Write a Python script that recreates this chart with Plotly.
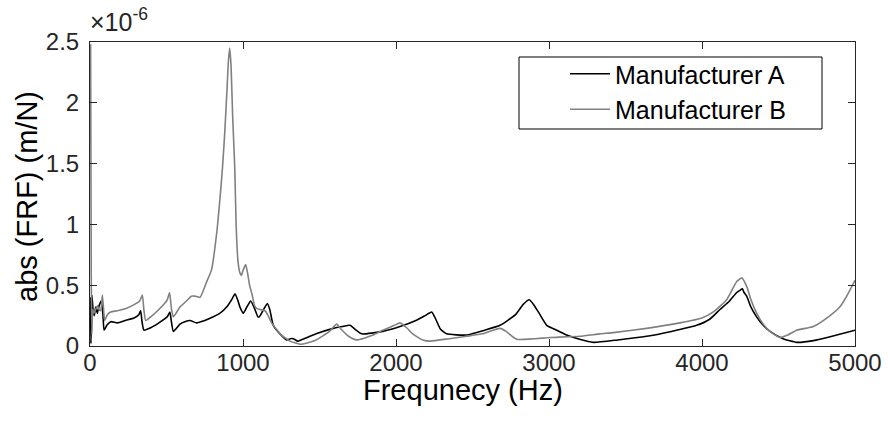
import plotly.graph_objects as go

# Frequencies (Hz) and |FRF| values in units of 1e-6 m/N
freq_a = [2, 6, 12, 20, 28, 37, 48, 59, 74, 85, 92, 110, 135, 179, 230, 288, 320, 331, 340, 353,
          397, 450, 505, 522, 532, 545, 588, 620, 654, 697, 750, 806, 850, 893, 930, 948, 965, 980,
          1002, 1025, 1050, 1075, 1098, 1107, 1130, 1159, 1175, 1198, 1242, 1285, 1310, 1329, 1359,
          1400, 1478, 1590, 1650, 1699, 1740, 1775, 1913, 2026, 2130, 2190, 2233, 2260, 2290, 2331,
          2462, 2580, 2680, 2783, 2830, 2870, 2900, 2935, 2985, 3033, 3115, 3200, 3290, 3450, 3638,
          3800, 3965, 4050, 4117, 4180, 4227, 4250, 4264, 4275, 4292, 4320, 4357, 4400, 4444, 4530,
          4619, 4728, 4850, 5000]
frf_a = [0.40, 0.02, 0.42, 0.30, 0.25, 0.32, 0.27, 0.33, 0.37, 0.25, 0.13, 0.17, 0.20, 0.19, 0.21,
         0.23, 0.26, 0.29, 0.20, 0.13, 0.15, 0.19, 0.24, 0.28, 0.20, 0.12, 0.18, 0.20, 0.21, 0.19,
         0.21, 0.24, 0.27, 0.32, 0.39, 0.43, 0.38, 0.32, 0.27, 0.32, 0.37, 0.31, 0.24, 0.24, 0.29,
         0.35, 0.30, 0.17, 0.10, 0.05, 0.06, 0.06, 0.04, 0.06, 0.10, 0.145, 0.16, 0.17, 0.13, 0.10,
         0.12, 0.16, 0.21, 0.25, 0.28, 0.22, 0.14, 0.10, 0.09, 0.13, 0.17, 0.26, 0.34, 0.38, 0.34,
         0.27, 0.17, 0.14, 0.09, 0.055, 0.03, 0.05, 0.08, 0.12, 0.17, 0.22, 0.30, 0.37, 0.44, 0.46,
         0.47, 0.44, 0.41, 0.32, 0.24, 0.17, 0.12, 0.06, 0.03, 0.044, 0.08, 0.13]

freq_b = [0, 4, 8, 12, 18, 26, 37, 48, 60, 70, 81, 90, 96, 115, 135, 179, 240, 288, 325, 342, 352,
          364, 397, 450, 505, 520, 533, 545, 588, 630, 663, 686, 719, 760, 795, 830, 848, 865, 880,
          895, 905, 913, 922, 932, 946, 955, 967, 980, 989, 1000, 1017, 1030, 1043, 1060, 1076, 1089,
          1111, 1144, 1160, 1187, 1217, 1242, 1283, 1307, 1373, 1420, 1478, 1565, 1612, 1640, 1690,
          1743, 1850, 1913, 1990, 2026, 2070, 2109, 2174, 2222, 2348, 2462, 2565, 2680, 2720, 2789,
          3007, 3203, 3333, 3420, 3638, 3856, 4000, 4074, 4161, 4227, 4260, 4292, 4320, 4357, 4400,
          4444, 4510, 4560, 4619, 4728, 4837, 4900, 4946, 5000]
frf_b = [1.67, 2.48, 0.60, 0.10, 0.30, 0.27, 0.30, 0.33, 0.30, 0.29, 0.42, 0.28, 0.21, 0.26, 0.28,
         0.29, 0.31, 0.34, 0.37, 0.42, 0.30, 0.21, 0.24, 0.30, 0.38, 0.44, 0.30, 0.24, 0.32, 0.37,
         0.41, 0.41, 0.40, 0.52, 0.63, 0.95, 1.19, 1.45, 1.74, 2.10, 2.35, 2.45, 2.30, 1.90, 1.47,
         1.00, 0.70, 0.60, 0.58, 0.62, 0.67, 0.60, 0.50, 0.42, 0.33, 0.31, 0.30, 0.29, 0.26, 0.19,
         0.14, 0.10, 0.06, 0.04, 0.015, 0.025, 0.05, 0.12, 0.18, 0.14, 0.08, 0.05, 0.09, 0.13, 0.17,
         0.19, 0.15, 0.10, 0.05, 0.04, 0.06, 0.08, 0.10, 0.145, 0.12, 0.055, 0.07, 0.08, 0.10, 0.11,
         0.145, 0.19, 0.23, 0.28, 0.38, 0.53, 0.56, 0.49, 0.38, 0.27, 0.18, 0.12, 0.07, 0.09, 0.13,
         0.16, 0.25, 0.32, 0.41, 0.54]

x_ticks = [0, 1000, 2000, 3000, 4000, 5000]
y_ticks = [0, 0.5, 1, 1.5, 2, 2.5]
y_tick_labels = ["0", "0.5", "1", "1.5", "2", "2.5"]

FONT = "Liberation Sans, Arial, Helvetica, sans-serif"
AX = "#262626"

fig = go.Figure()
fig.add_trace(go.Scatter(x=freq_a, y=frf_a, mode="lines", name="Manufacturer A",
                         line=dict(color="#000000", width=1.6, shape="spline", smoothing=0.5)))
fig.add_trace(go.Scatter(x=freq_b, y=frf_b, mode="lines", name="Manufacturer B",
                         line=dict(color="#808080", width=1.6, shape="spline", smoothing=0.5)))

W, H = 888, 430
L, R, T, B = 90, 855, 42, 346

fig.update_layout(
    width=W, height=H,
    margin=dict(l=L, r=W - R, t=T, b=H - B, pad=0, autoexpand=False),
    paper_bgcolor="white", plot_bgcolor="white",
    font=dict(family=FONT, size=23, color=AX),
    showlegend=True,
    legend=dict(x=(565 - L) / (R - L), y=(346 - 51) / (B - T), xanchor="left", yanchor="top",
                bgcolor="rgba(0,0,0,0)", borderwidth=0, font=dict(size=25, color="#000"),
                itemwidth=40, tracegroupgap=0),
    xaxis=dict(range=[0, 5000], tickvals=x_ticks, ticks="inside", ticklen=7, tickcolor=AX,
               showline=True, linecolor=AX, linewidth=1, mirror="ticks", showgrid=False,
               zeroline=False, tickfont=dict(size=24, color=AX), ticklabelstandoff=-5,
               automargin=False),
    yaxis=dict(range=[0, 2.5], tickvals=y_ticks, ticktext=y_tick_labels, ticks="inside", ticklen=7,
               tickcolor=AX, showline=True, linecolor=AX, linewidth=1, mirror="ticks",
               showgrid=False, zeroline=False, tickfont=dict(size=24, color=AX),
               ticklabelstandoff=5, automargin=False),
)

# axis titles
fig.add_annotation(xref="paper", yref="paper", x=(463 - L) / (R - L), y=(B - 390) / (B - T),
                   xanchor="center", yanchor="middle", showarrow=False,
                   text="Frequnecy (Hz)", font=dict(size=29, color="#000"))
fig.add_annotation(xref="paper", yref="paper", x=(27 - L) / (R - L), y=(B - 197) / (B - T),
                   xanchor="center", yanchor="middle", textangle=-90, showarrow=False,
                   text="abs (FRF) (m/N)", font=dict(size=29, color="#000"))

# legend border box (MATLAB style)
fig.add_shape(type="rect", xref="paper", yref="paper",
              x0=(519 - L) / (R - L), x1=(822 - L) / (R - L),
              y0=(B - 129) / (B - T), y1=(B - 57) / (B - T),
              line=dict(color="#000", width=1), fillcolor="rgba(0,0,0,0)", layer="above")

# exponent label
fig.add_annotation(xref="paper", yref="paper", x=0, y=1, xanchor="left", yanchor="bottom",
                   text="×10<sup>-6</sup>", showarrow=False, font=dict(size=25, color=AX),
                   xshift=-2, yshift=4)

fig.write_html("out.html")
